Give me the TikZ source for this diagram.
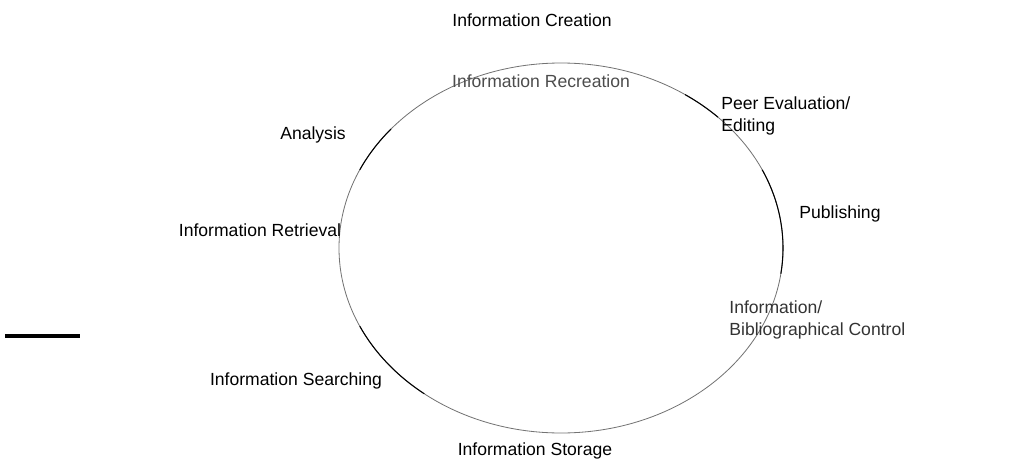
\documentclass[tikz,border=0pt]{standalone}
\usepackage{fontspec}
\setmainfont{Liberation Sans}
\usepackage{xcolor}
\usetikzlibrary{positioning}

\definecolor{ringgray}{gray}{0.45}
\definecolor{softtext}{gray}{0.3}

\tikzset{
  stage/.style={font=\fontsize{15}{19}\selectfont, inner sep=1pt},
  sidestage/.style={stage, align=left, anchor=west},
}

\begin{document}
\begin{tikzpicture}[x=0.03cm, y=0.03cm]
  \useasboundingbox (0,0) rectangle (1009,463);
  \coordinate (O) at (561,215);

  % the cycle
  \draw[ringgray, line width=0.7pt] (O) ellipse [x radius=222, y radius=185];
  \foreach \a/\b in {45/56, -8/25, 140/155, 205/232}
    \draw[black, line width=0.9pt] (O) ++(\a:222 and 185)
      arc[start angle=\a, end angle=\b, x radius=222, y radius=185];

  \node[stage] (create) at (532,443) {Information Creation};
  \node[stage, text=softtext] (recreate) at (541,382) {Information Recreation};
  \node[sidestage] (peer) at (720,347) {Peer Evaluation/\\Editing};
  \node[stage] (analysis) at (313,328) {Analysis};
  \node[stage] (retrieve) at (260,233) {Information Retrieval};
  \node[stage] (publish) at (840,249) {Publishing};
  \node[sidestage, text=black!80] (control) at (728,143) {Information/\\Bibliographical Control};
  \node[stage] (search) at (296,82) {Information Searching};
  \node[stage] (store) at (535,12) {Information Storage};

  \coordinate (barL) at (5,127);
  \coordinate (barR) at (80,127);
  \draw[line width=3.6pt] (barL) -- (barR);
\end{tikzpicture}
\end{document}
